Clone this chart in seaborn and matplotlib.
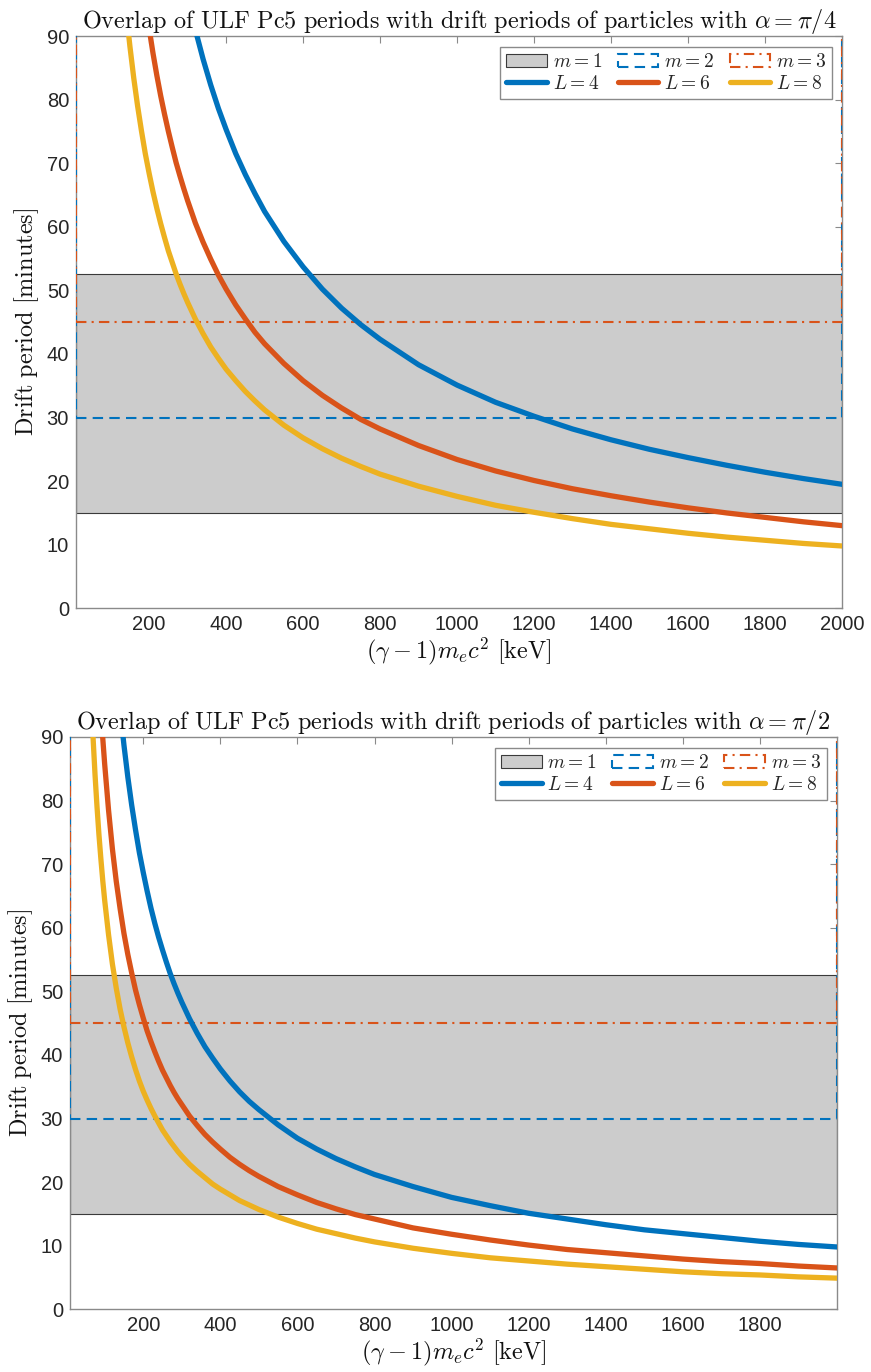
import matplotlib
matplotlib.use("Agg")
import matplotlib.pyplot as plt
import seaborn as sns
import pandas as pd
from matplotlib.patches import Rectangle, Patch
from matplotlib.lines import Line2D

# ---------------- data ----------------
titles = [
    r"$\mathrm{Overlap\ of\ ULF\ Pc5\ periods\ with\ drift\ periods\ of\ particles\ with}\ \alpha=\pi/4$",
    r"$\mathrm{Overlap\ of\ ULF\ Pc5\ periods\ with\ drift\ periods\ of\ particles\ with}\ \alpha=\pi/2$",
]
m_labels = ["$m=1$", "$m=2$", "$m=3$"]
m_low = [15, 30, 45]
m_high = [52.5, 105, 157.5]
L_labels = ["$L=4$", "$L=6$", "$L=8$"]

# panel 1 (alpha = pi/4): kinetic energy [keV] and drift period [min]
p1_L4_E = [320, 340, 360, 380, 400, 425, 450, 475, 500, 550, 600, 650, 700, 750, 800, 900,
           1000, 1100, 1200, 1300, 1400, 1500, 1600, 1700, 1800, 1900, 2000]
p1_L4_T = [91.0, 86.4, 82.3, 78.6, 75.3, 71.5, 68.2, 65.2, 62.4, 57.7, 53.7, 50.2, 47.2, 44.6, 42.3, 38.3,
           35.1, 32.4, 30.2, 28.2, 26.5, 25.0, 23.7, 22.5, 21.4, 20.4, 19.5]
p1_L6_E = [200, 210, 220, 230, 240, 250, 260, 270, 280, 290, 300, 320, 340, 360, 380, 400, 425, 450,
           475, 500, 550, 600, 650, 700, 750, 800, 900, 1000, 1100, 1200, 1300, 1400, 1500, 1600,
           1700, 1800, 1900, 2000]
p1_L6_T = [91.2, 87.3, 83.8, 80.6, 77.7, 75.0, 72.5, 70.1, 68.0, 66.0, 64.1, 60.6, 57.6, 54.9, 52.4,
           50.2, 47.7, 45.5, 43.4, 41.6, 38.5, 35.8, 33.5, 31.5, 29.7, 28.2, 25.6, 23.4, 21.6, 20.1,
           18.8, 17.7, 16.7, 15.8, 15.0, 14.3, 13.6, 13.0]
p1_L8_E = [140, 150, 160, 170, 180, 190, 200, 210, 220, 230, 240, 250, 260, 270, 280, 290, 300, 320,
           340, 360, 380, 400, 425, 450, 475, 500, 550, 600, 650, 700, 750, 800, 900, 1000, 1100,
           1200, 1300, 1400, 1500, 1600, 1700, 1800, 1900, 2000]
p1_L8_T = [94.0, 88.4, 83.4, 79.0, 75.1, 71.5, 68.4, 65.5, 62.9, 60.5, 58.3, 56.2, 54.4, 52.6, 51.0,
           49.5, 48.1, 45.5, 43.2, 41.1, 39.3, 37.6, 35.8, 34.1, 32.6, 31.2, 28.8, 26.8, 25.1, 23.6,
           22.3, 21.1, 19.2, 17.6, 16.2, 15.1, 14.1, 13.2, 12.5, 11.8, 11.2, 10.7, 10.2, 9.8]

# panel 2 (alpha = pi/2)
p2_L4_E = [140, 150, 160, 170, 180, 190, 200, 210, 220, 230, 240, 250, 260, 270, 280, 290, 300, 320,
           340, 360, 380, 400, 425, 450, 475, 500, 550, 600, 650, 700, 750, 800, 900, 1000, 1100,
           1200, 1300, 1400, 1500, 1600, 1700, 1800, 1900, 2000]
p2_L4_T = [94.4, 88.7, 83.7, 79.3, 75.4, 71.8, 68.7, 65.8, 63.1, 60.7, 58.5, 56.5, 54.6, 52.8, 51.2,
           49.7, 48.3, 45.7, 43.4, 41.3, 39.5, 37.8, 35.9, 34.2, 32.7, 31.4, 29.0, 26.9, 25.2, 23.7,
           22.4, 21.2, 19.3, 17.6, 16.3, 15.1, 14.2, 13.3, 12.5, 11.9, 11.3, 10.7, 10.2, 9.8]
p2_L6_E = [90, 95, 100, 110, 120, 130, 140, 150, 160, 170, 180, 190, 200, 210, 220, 230, 240, 250,
           260, 270, 280, 290, 300, 320, 340, 360, 380, 400, 425, 450, 475, 500, 550, 600, 650, 700,
           750, 800, 900, 1000, 1100, 1200, 1300, 1400, 1500, 1600, 1700, 1800, 1900, 2000]
p2_L6_T = [94.5, 89.8, 85.7, 78.5, 72.4, 67.3, 63.0, 59.1, 55.8, 52.9, 50.2, 47.9, 45.8, 43.8, 42.1,
           40.5, 39.0, 37.6, 36.4, 35.2, 34.1, 33.1, 32.2, 30.4, 28.9, 27.5, 26.3, 25.2, 23.9, 22.8,
           21.8, 20.9, 19.3, 18.0, 16.8, 15.8, 14.9, 14.2, 12.8, 11.8, 10.9, 10.1, 9.4, 8.9, 8.4,
           7.9, 7.5, 7.2, 6.8, 6.5]
p2_L8_E = [65, 70, 75, 80, 85, 90, 95, 100, 110, 120, 130, 140, 150, 160, 170, 180, 190, 200, 210,
           220, 230, 240, 250, 260, 270, 280, 290, 300, 320, 340, 360, 380, 400, 425, 450, 475, 500,
           550, 600, 650, 700, 750, 800, 900, 1000, 1100, 1200, 1300, 1400, 1500, 1600, 1700, 1800,
           1900, 2000]
p2_L8_T = [96.2, 89.7, 84.0, 79.1, 74.7, 70.9, 67.4, 64.3, 58.9, 54.3, 50.5, 47.2, 44.4, 41.9, 39.7,
           37.7, 35.9, 34.3, 32.9, 31.6, 30.4, 29.3, 28.2, 27.3, 26.4, 25.6, 24.8, 24.1, 22.8, 21.7,
           20.7, 19.7, 18.9, 18.0, 17.1, 16.4, 15.7, 14.5, 13.5, 12.6, 11.9, 11.2, 10.6, 9.6, 8.8,
           8.1, 7.6, 7.1, 6.7, 6.3, 5.9, 5.6, 5.4, 5.1, 4.9]

x_limits = [(10, 2000), (10, 1999)]
y_ticks = [0, 10, 20, 30, 40, 50, 60, 70, 80, 90]
x_ticks = [[200, 400, 600, 800, 1000, 1200, 1400, 1600, 1800, 2000],
           [200, 400, 600, 800, 1000, 1200, 1400, 1600, 1800]]

panels = [
    [(p1_L4_E, p1_L4_T), (p1_L6_E, p1_L6_T), (p1_L8_E, p1_L8_T)],
    [(p2_L4_E, p2_L4_T), (p2_L6_E, p2_L6_T), (p2_L8_E, p2_L8_T)],
]

# ---------------- style ----------------
sns.set_theme(style="white")
plt.rcParams["mathtext.fontset"] = "cm"
plt.rcParams["font.family"] = ["Liberation Sans", "DejaVu Sans"]

blue = "#0072BD"
orange = "#D95319"
yellow = "#EDB120"
L_colors = [blue, orange, yellow]
m_edge = ["#3a3a3a", blue, orange]
m_style = ["-", (0, (5, 3)), (0, (5, 2.5, 1, 2.5))]
axis_gray = "#8a8a8a"

fig = plt.figure(figsize=(8.71, 13.72), dpi=100)
rects = [[0.08726, 0.55663, 0.87945, 0.41713],
         [0.08037, 0.04570, 0.88025, 0.41713]]

for k in range(2):
    ax = fig.add_axes(rects[k])
    x0, x1 = x_limits[k]

    # m rectangles
    ax.add_patch(Rectangle((x0, m_low[0]), x1 - x0, m_high[0] - m_low[0],
                           facecolor="#cccccc", edgecolor=m_edge[0], lw=0.8, zorder=1))
    for i in (1, 2):
        ax.add_patch(Rectangle((x0, m_low[i]), x1 - x0, m_high[i] - m_low[i],
                               facecolor="none", edgecolor=m_edge[i], lw=1.5,
                               linestyle=m_style[i], zorder=3))

    # curves
    rows = []
    for lab, (E, T) in zip(L_labels, panels[k]):
        for e, t in zip(E, T):
            rows.append({"E": e, "T": t, "L": lab})
    df = pd.DataFrame(rows)
    sns.lineplot(data=df, x="E", y="T", hue="L", palette=dict(zip(L_labels, L_colors)),
                 linewidth=3.8, ax=ax, legend=False, estimator=None, sort=True, zorder=4)

    ax.set_xlim(x0, x1)
    ax.set_ylim(0, 90)
    ax.set_xticks(x_ticks[k])
    ax.set_yticks(y_ticks)
    ax.tick_params(direction="in", length=5, width=0.8, top=True, right=True,
                   color=axis_gray, labelcolor="#262626", labelsize=14.5, pad=5)
    for s in ax.spines.values():
        s.set_color(axis_gray)
        s.set_linewidth(1.0)

    ax.set_title(titles[k], fontsize=17.5, pad=6, color="#111111")
    ax.set_xlabel(r"$(\gamma-1)m_ec^2\ \mathrm{[keV]}$", fontsize=17.5, labelpad=1, color="#111111")
    ax.set_ylabel(r"$\mathrm{Drift\ period\ [minutes]}$", fontsize=17.5, labelpad=4, color="#111111")

    # legend
    handles = [
        Patch(facecolor="#cccccc", edgecolor=m_edge[0], lw=0.8),
        Line2D([], [], color=L_colors[0], lw=3.8),
        Patch(facecolor="none", edgecolor=m_edge[1], lw=1.5, linestyle=m_style[1]),
        Line2D([], [], color=L_colors[1], lw=3.8),
        Patch(facecolor="none", edgecolor=m_edge[2], lw=1.5, linestyle=m_style[2]),
        Line2D([], [], color=L_colors[2], lw=3.8),
    ]
    labels = [m_labels[0], L_labels[0], m_labels[1], L_labels[1], m_labels[2], L_labels[2]]
    leg = ax.legend(handles, labels, ncol=3, loc="upper right", bbox_to_anchor=(0.987, 0.980),
                    borderaxespad=0, fontsize=14, frameon=True, fancybox=False,
                    handlelength=2.1, handletextpad=0.3, columnspacing=0.8,
                    labelspacing=0.2, borderpad=0.3)
    leg.get_frame().set_edgecolor(axis_gray)
    leg.get_frame().set_linewidth(1.0)
    leg.get_frame().set_alpha(1)
    leg.set_zorder(10)

fig.savefig("out.png", dpi=100)
